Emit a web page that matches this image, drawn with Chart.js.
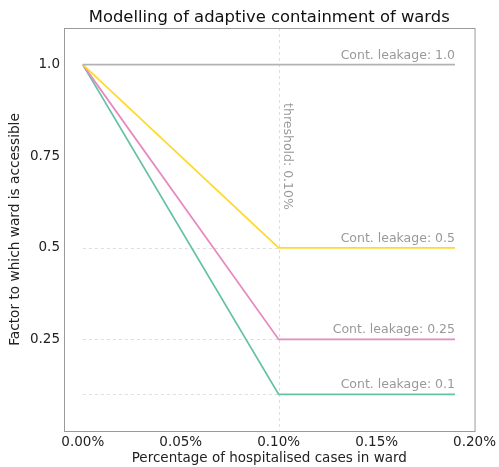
<!DOCTYPE html>
<html>
<head>
<meta charset="utf-8">
<script src="https://cdn.jsdelivr.net/npm/chart.js@4.4.1/dist/chart.umd.min.js"></script>
<style>
  html, body { margin: 0; padding: 0; background: #fff; }
  #wrap { width: 499px; height: 467px; }
</style>
</head>
<body>
<div id="wrap"><canvas id="chart" width="499" height="467"></canvas></div>
<script>
// x positions (percentage of hospitalised cases in ward)
const xValues = [0, 0.10, 0.19];
const threshold = 0.10;

// accessibility factor per containment leakage
const leakageLabels = ['Cont. leakage: 1.0', 'Cont. leakage: 0.5', 'Cont. leakage: 0.25', 'Cont. leakage: 0.1'];
const leakage100 = [1.0, 1.0, 1.0];
const leakage050 = [1.0, 0.5, 0.5];
const leakage025 = [1.0, 0.25, 0.25];
const leakage010 = [1.0, 0.1, 0.1];
const seriesColors = ['#b3b3b3', '#ffd92f', '#e78ac3', '#66c2a5'];

// ticks
const xTicks = [0, 0.05, 0.10, 0.15, 0.20];
const yTicks = [0.25, 0.5, 0.75, 1.0];
const yTickLabels = ['0.25', '0.5', '0.75', '1.0'];

Chart.defaults.font.family = '"DejaVu Sans", sans-serif';

const allSeries = [leakage100, leakage050, leakage025, leakage010];

const toPoints = values => values.map((y, i) => ({ x: xValues[i], y: y }));

// dashed guides, labels, title and box around the axes
const guidesPlugin = {
    id: 'guides',
    beforeDatasetsDraw(chart) {
        const { ctx, chartArea, scales } = chart;
        const xs = scales.x, ys = scales.y;
        ctx.save();
        ctx.strokeStyle = '#dedede';
        ctx.lineWidth = 1;
        ctx.setLineDash([3, 3]);
        // vertical threshold
        const tx = Math.round(xs.getPixelForValue(threshold)) + 0.5;
        ctx.beginPath();
        ctx.moveTo(tx, chartArea.top);
        ctx.lineTo(tx, chartArea.bottom);
        ctx.stroke();
        // horizontal levels up to threshold
        allSeries.slice(1).forEach(values => {
            const py = Math.round(ys.getPixelForValue(values[1])) + 0.5;
            ctx.beginPath();
            ctx.moveTo(xs.getPixelForValue(xValues[0]), py);
            ctx.lineTo(tx, py);
            ctx.stroke();
        });
        ctx.restore();
    },
    afterDatasetsDraw(chart) {
        const { ctx, scales } = chart;
        const xs = scales.x, ys = scales.y;
        ctx.save();
        ctx.fillStyle = '#999999';
        ctx.font = '12.5px "DejaVu Sans"';
        ctx.textAlign = 'right';
        ctx.textBaseline = 'bottom';
        allSeries.forEach((values, i) => {
            const last = values.length - 1;
            ctx.fillText(leakageLabels[i], xs.getPixelForValue(xValues[last]), ys.getPixelForValue(values[last]) - 3);
        });
        // rotated threshold label
        ctx.translate(xs.getPixelForValue(threshold) + 2, ys.getPixelForValue(0.895));
        ctx.rotate(Math.PI / 2);
        ctx.textAlign = 'left';
        ctx.textBaseline = 'bottom';
        ctx.fillText('threshold: ' + threshold.toFixed(2) + '%', 0, 0);
        ctx.restore();
    },
    afterDraw(chart) {
        const { ctx, chartArea } = chart;
        ctx.save();
        ctx.strokeStyle = '#9a9a9a';
        ctx.lineWidth = 1;
        ctx.strokeRect(chartArea.left + 0.5, chartArea.top + 0.5,
            chartArea.right - chartArea.left, chartArea.bottom - chartArea.top);
        ctx.fillStyle = '#111';
        ctx.font = '16.4px "DejaVu Sans"';
        ctx.textAlign = 'center';
        ctx.textBaseline = 'middle';
        ctx.fillText('Modelling of adaptive containment of wards', (chartArea.left + chartArea.right) / 2, 18);
        ctx.restore();
    }
};

new Chart(document.getElementById('chart'), {
    type: 'line',
    data: {
        datasets: allSeries.map((values, i) => ({
            label: leakageLabels[i],
            data: toPoints(values),
            borderColor: seriesColors[i],
            backgroundColor: seriesColors[i],
            borderWidth: 1.8,
            pointRadius: 0,
            tension: 0,
            fill: false
        }))
    },
    options: {
        responsive: false,
        animation: false,
        layout: { padding: { top: 28, right: 21, left: 0, bottom: 0 } },
        plugins: {
            legend: { display: false },
            tooltip: { enabled: false }
        },
        scales: {
            x: {
                type: 'linear',
                min: -0.0096,
                max: 0.2,
                grid: { display: false, drawTicks: false },
                border: { display: false },
                afterBuildTicks: s => { s.ticks = xTicks.map(v => ({ value: v })); },
                afterFit: s => { s.height = 36; },
                ticks: {
                    padding: 3,
                    color: '#222',
                    font: { size: 13.5 },
                    maxRotation: 0,
                    callback: v => v.toFixed(2) + '%'
                },
                title: {
                    display: true,
                    text: 'Percentage of hospitalised cases in ward',
                    color: '#222',
                    font: { size: 13.5 },
                    padding: { top: 0, bottom: 0 }
                }
            },
            y: {
                min: 0,
                max: 1.1,
                grid: { display: false, drawTicks: false },
                border: { display: false },
                afterBuildTicks: s => { s.ticks = yTicks.map(v => ({ value: v })); },
                afterFit: s => { s.width = 64; },
                ticks: {
                    padding: 4,
                    color: '#222',
                    font: { size: 13.5 },
                    callback: v => yTickLabels[yTicks.indexOf(v)]
                },
                title: {
                    display: true,
                    text: 'Factor to which ward is accessible',
                    color: '#222',
                    font: { size: 13.7 },
                    padding: { top: 7, bottom: 0 }
                }
            }
        }
    },
    plugins: [guidesPlugin]
});
</script>
</body>
</html>
